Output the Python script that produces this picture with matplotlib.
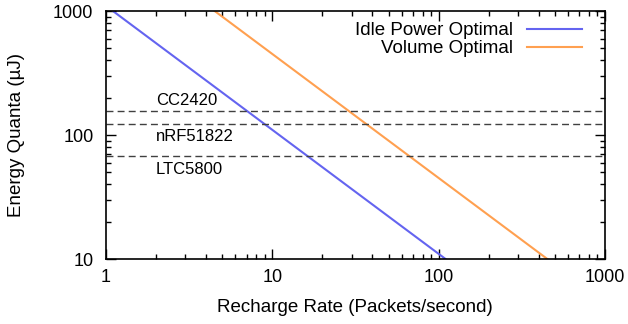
import numpy as np
import matplotlib
matplotlib.use('Agg')
import matplotlib.pyplot as plt
from matplotlib.ticker import LogLocator, NullFormatter, FixedLocator

plt.rcParams['font.family'] = ['Liberation Sans', 'DejaVu Sans']

# energy quanta = k / rate for each optimisation
idle_k = 1100.0
volume_k = 4500.0
rate = np.logspace(0, 3, 200)

# radio packet energies (uJ)
radios = ['CC2420', 'nRF51822', 'LTC5800']
radio_energy = [156, 122, 68]
label_x = [2.0, 2.0, 2.0]
label_y = [190, 97, 53]

fig = plt.figure(figsize=(6.28, 3.24), dpi=100)
ax = fig.add_axes([106 / 628, 1 - 259 / 324, 499 / 628, 248 / 324])

ax.plot(rate, idle_k / rate, color='#6464f0', lw=1.5, label='Idle Power Optimal')
ax.plot(rate, volume_k / rate, color='#ffa050', lw=1.5, label='Volume Optimal')

for e in radio_energy:
    ax.axhline(e, color='#404040', lw=1.0, ls=(0, (5, 3)))
for name, x, y in zip(radios, label_x, label_y):
    ax.text(x, y, name, ha='left', va='center', fontsize=12)

ax.set_xscale('log')
ax.set_yscale('log')
ax.set_xlim(1, 1000)
ax.set_ylim(10, 1000)
ax.xaxis.set_major_locator(FixedLocator([1, 10, 100, 1000]))
ax.yaxis.set_major_locator(FixedLocator([10, 100, 1000]))
ax.set_xticklabels(['1', '10', '100', '1000'])
ax.set_yticklabels(['10', '100', '1000'])
ax.xaxis.set_minor_locator(LogLocator(subs=np.arange(2, 10)))
ax.yaxis.set_minor_locator(LogLocator(subs=np.arange(2, 10)))
ax.xaxis.set_minor_formatter(NullFormatter())
ax.yaxis.set_minor_formatter(NullFormatter())
ax.tick_params(which='both', direction='in', top=True, right=True, width=1.0, labelsize=13)
ax.tick_params(which='major', length=7)
ax.tick_params(axis='y', which='major', pad=9)
ax.tick_params(axis='x', which='major', pad=7)
ax.tick_params(which='minor', length=3.5)
for s in ax.spines.values():
    s.set_linewidth(1.2)

ax.set_xlabel('Recharge Rate (Packets/second)', fontsize=13.5)
ax.set_ylabel('Energy Quanta (\u00b5J)', fontsize=13.5)
ax.xaxis.set_label_coords(355 / 628, 1 - 299 / 324, transform=fig.transFigure)
ax.yaxis.set_label_coords(25 / 628, 1 - 135 / 324, transform=fig.transFigure)

ax.legend(loc='upper right', frameon=False, markerfirst=False, fontsize=13.5,
          handlelength=2.95, handletextpad=0.75, labelspacing=0.05,
          borderpad=0, borderaxespad=0,
          bbox_to_anchor=(582 / 628, 1 - 22 / 324), bbox_transform=fig.transFigure)

fig.savefig('out.png', dpi=100)
